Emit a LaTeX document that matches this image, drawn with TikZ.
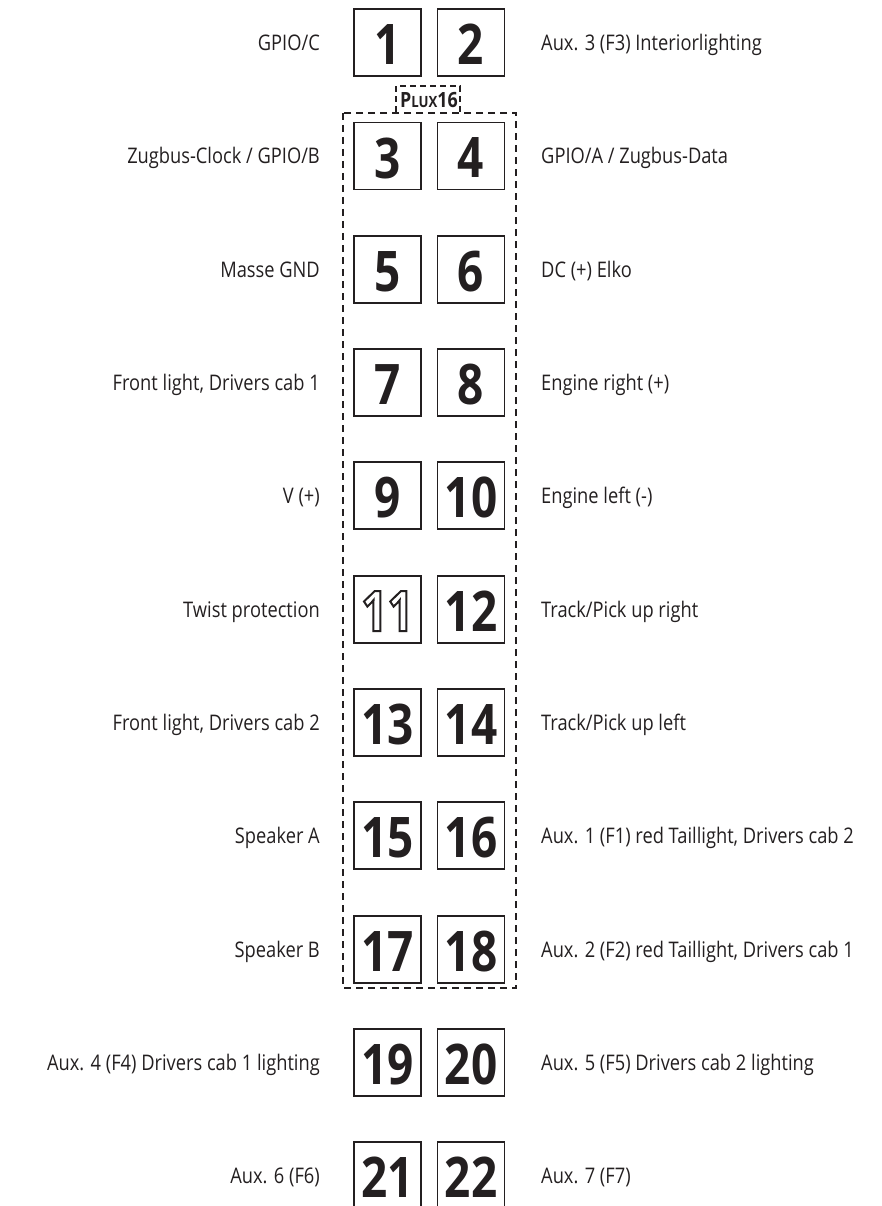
\documentclass[tikz,border=0pt]{standalone}
\usepackage{fontspec}
\setmainfont{Open Sans}
\newfontfamily\lblfont[FakeStretch=0.85]{Open Sans}
\newfontfamily\numfont[FakeStretch=0.82]{Open Sans}
\definecolor{ink}{HTML}{231F20}
\newcommand\outlinetext[1]{\special{pdf:literal direct 1 Tr 2 w}#1\special{pdf:literal direct 0 Tr}}
\tikzset{
  pinbox/.style={draw=ink, line width=1.9pt, minimum size=67pt, inner sep=0pt},
  pinnum/.style={inner sep=0pt, text=ink, font=\numfont\bfseries\fontsize{56}{56}\selectfont},
  lblL/.style={anchor=base east, inner sep=0pt, text=ink, font=\lblfont\fontsize{21.5}{21.5}\selectfont},
  lblR/.style={anchor=base west, inner sep=0pt, text=ink, font=\lblfont\fontsize{21.5}{21.5}\selectfont},
  dashrect/.style={draw=ink, line width=2pt, dash pattern=on 7pt off 5pt},
  dashsmall/.style={draw=ink, line width=1.5pt, dash pattern=on 6pt off 4pt}
}
\begin{document}
\begin{tikzpicture}[x=1pt,y=-1pt]
\useasboundingbox (0,0) rectangle (881,1206);
\foreach \k in {0,...,10} {
  \pgfmathsetmacro\yc{42.7+113.3*\k}
  \pgfmathtruncatemacro\l{2*\k+1}
  \pgfmathtruncatemacro\r{2*\k+2}
  \node[pinbox] (p\l) at (387.5,\yc) {};
  \node[pinbox] (p\r) at (471,\yc) {};
  \ifnum\l=11\relax\else\node[pinnum] (n\l) at ([yshift=-2pt]p\l.center) {\l};\fi
  \node[pinnum] (n\r) at ([yshift=-2pt]p\r.center) {\r};
}
% outlined 11
\node[pinnum] (n11) at ([yshift=-2pt]p11.center) {\outlinetext{11}};
% dashed PluX16 outline
\draw[dashrect] (343,113) rectangle (516,988);
\draw[dashsmall] (396,112) -- (396,86) -- (460,86) -- (460,112);
\node[anchor=base, inner sep=0pt, text=ink, font=\lblfont\bfseries] (plux) at (429,108)
  {\fontsize{21}{21}\selectfont P\fontsize{15.5}{15.5}\selectfont LUX\fontsize{21}{21}\selectfont 16};
% labels
\foreach \k/\txt in {0/{GPIO/C}, 1/{Zugbus-Clock / GPIO/B}, 2/{Masse GND}, 3/{Front light, Drivers cab 1}, 4/{V (+)}, 5/{Twist protection}, 6/{Front light, Drivers cab 2}, 7/{Speaker A}, 8/{Speaker B}, 9/{Aux. 4 (F4) Drivers cab 1 lighting}, 10/{Aux. 6 (F6)}} {
  \pgfmathsetmacro\yb{42.7+113.3*\k+8}
  \node[lblL] (L\k) at (320,\yb) {\txt};
}
\foreach \k/\txt in {0/{Aux. 3 (F3) Interiorlighting}, 1/{GPIO/A / Zugbus-Data}, 2/{DC (+) Elko}, 3/{Engine right (+)}, 4/{Engine left (-)}, 5/{Track/Pick up right}, 6/{Track/Pick up left}, 7/{Aux. 1 (F1) red Taillight, Drivers cab 2}, 8/{Aux. 2 (F2) red Taillight, Drivers cab 1}, 9/{Aux. 5 (F5) Drivers cab 2 lighting}, 10/{Aux. 7 (F7)}} {
  \pgfmathsetmacro\yb{42.7+113.3*\k+8}
  \node[lblR] (R\k) at (541,\yb) {\txt};
}
\end{tikzpicture}
\end{document}
